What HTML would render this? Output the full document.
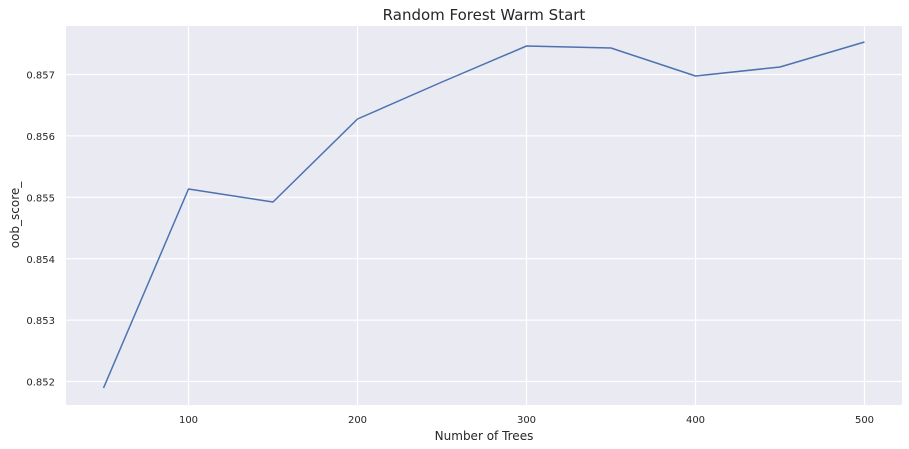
<!DOCTYPE html>
<html><head><style>body{margin:0;background:#fff}svg{display:block}text{font-family:"DejaVu Sans","Liberation Sans",sans-serif;fill:#262626}</style></head>
<body>
<svg width="909" height="449" xmlns="http://www.w3.org/2000/svg">
<rect x="66" y="26" width="836" height="379" fill="#eaeaf2"/>
<g stroke="#fff" stroke-width="1.2">
<line x1="66" x2="902" y1="74.5" y2="74.5"/>
<line x1="66" x2="902" y1="135.9" y2="135.9"/>
<line x1="66" x2="902" y1="197.3" y2="197.3"/>
<line x1="66" x2="902" y1="258.7" y2="258.7"/>
<line x1="66" x2="902" y1="320.1" y2="320.1"/>
<line x1="66" x2="902" y1="381.5" y2="381.5"/>
<line y1="26" y2="405" x1="188.5" x2="188.5"/>
<line y1="26" y2="405" x1="357.5" x2="357.5"/>
<line y1="26" y2="405" x1="526.5" x2="526.5"/>
<line y1="26" y2="405" x1="695.5" x2="695.5"/>
<line y1="26" y2="405" x1="864.5" x2="864.5"/>
</g>
<polyline fill="none" stroke="#4c72b0" stroke-width="1.5" stroke-linejoin="round" points="103.5,388 188.5,189 273,202 357.5,119 442,82 526.5,46 611,48 695.5,76 780,67 864.5,42"/>
<g font-size="10" text-anchor="end">
<text x="55" y="78.5">0.857</text>
<text x="55" y="140">0.856</text>
<text x="55" y="201.5">0.855</text>
<text x="55" y="263">0.854</text>
<text x="55" y="324">0.853</text>
<text x="55" y="385.5">0.852</text>
</g>
<g font-size="10" text-anchor="middle">
<text x="188.5" y="423">100</text>
<text x="357.5" y="423">200</text>
<text x="526.5" y="423">300</text>
<text x="695.5" y="423">400</text>
<text x="864.5" y="423">500</text>
</g>
<text x="484" y="440" font-size="12" text-anchor="middle">Number of Trees</text>
<text transform="translate(19,215) rotate(-90)" font-size="12" text-anchor="middle">oob_score_</text>
<text x="484" y="20" font-size="15" text-anchor="middle">Random Forest Warm Start</text>
</svg>
</body></html>
